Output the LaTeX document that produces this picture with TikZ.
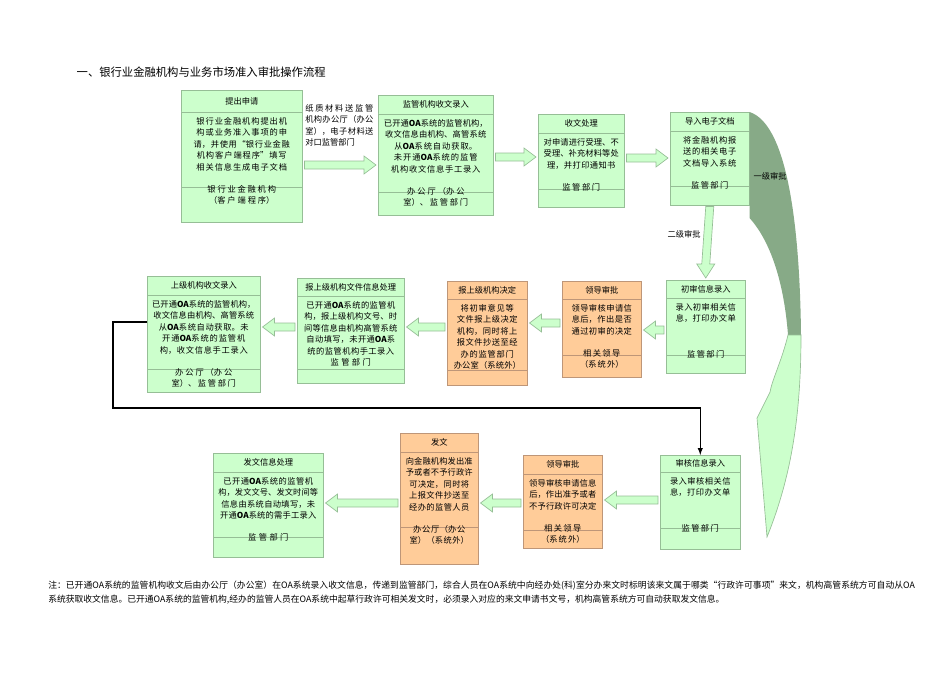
\documentclass[tikz,border=0pt]{standalone}
\usepackage{fontspec}
\setmainfont{Noto Sans CJK SC}
\XeTeXlinebreaklocale "zh"
\XeTeXlinebreakskip=0pt plus 1pt
\usetikzlibrary{calc}
\definecolor{boxgreen}{RGB}{204,255,204}
\definecolor{boxorange}{RGB}{255,204,153}
\definecolor{edgegreen}{RGB}{150,190,150}
\definecolor{edgeorange}{RGB}{190,150,120}
\definecolor{darkgreen}{RGB}{135,170,135}
\tikzset{
  gbox/.style={draw=edgegreen, fill=boxgreen},
  obox/.style={draw=edgeorange, fill=boxorange},
  fat/.style={draw=edgegreen, fill=boxgreen, line width=0.5pt},
  txt/.style={font=\fontsize{6.2}{8.6}\selectfont, align=center, inner sep=0pt},
}
% style, name, top left, width, height, header depth, lower line depth, title, body
\newcommand\procbox[9]{%
  \pgfmathsetmacro\boxw{#4*0.0264}%
  \pgfmathsetmacro\boxh{#5*0.0264}%
  \pgfmathsetmacro\bodyw{(#4-8)*0.0264}%
  \node[#1, anchor=north west, inner sep=0pt, minimum width=\boxw cm,
        minimum height=\boxh cm] (#2) at #3 {};
  \draw[#1] ($(#2.north west)+(0,#6)$) -- ($(#2.north east)+(0,#6)$);
  \draw[#1] ($(#2.north west)+(0,#7)$) -- ($(#2.north east)+(0,#7)$);
  \node[txt] at ($(#2.north)+(0,#6/2)$) {#8};
  \node[txt, anchor=north, text width=\bodyw cm] at ($(#2.north)+(0,#6+5)$) {#9};
}
% hollow arrows between boxes
\newcommand\lfat[3]{% leftwards from #1 to #2 at height #3
  \path let \p1=(#1.west), \p2=(#2.east) in coordinate (s) at (\x1,0) coordinate (e) at (\x2,0);
  \draw[fat] ($(s|-0,#3)+(-2,-4)$) -- ($(e|-0,#3)+(14,-4)$) -- ($(e|-0,#3)+(14,-9)$)
    -- ($(e|-0,#3)+(2,0)$) -- ($(e|-0,#3)+(14,9)$) -- ($(e|-0,#3)+(14,4)$)
    -- ($(s|-0,#3)+(-2,4)$) -- cycle;
}
\newcommand\rfat[3]{% rightwards from #1 to #2
  \path let \p1=(#1.east), \p2=(#2.west) in coordinate (s) at (\x1,0) coordinate (e) at (\x2,0);
  \draw[fat] ($(s|-0,#3)+(2,-4)$) -- ($(e|-0,#3)+(-14,-4)$) -- ($(e|-0,#3)+(-14,-9)$)
    -- ($(e|-0,#3)+(-2,0)$) -- ($(e|-0,#3)+(-14,9)$) -- ($(e|-0,#3)+(-14,4)$)
    -- ($(s|-0,#3)+(2,4)$) -- cycle;
}
\begin{document}
\begin{tikzpicture}[x=0.0264cm, y=-0.0264cm]
\useasboundingbox (0,0) rectangle (950,672);

\node[anchor=west, font=\fontsize{8.5}{10}\selectfont] (title) at (72,72) {一、银行业金融机构与业务市场准入审批操作流程};

% first row
\procbox{gbox}{A}{(181,90)}{121}{132}{22}{97}{提出申请}{银行业金融机构提出机构或业务准入事项的申请，并使用“银行业金融机构客户端程序”填写相关信息生成电子文档\\[8pt]银行业金融机构（客户端程序）}
\procbox{gbox}{B}{(378,95)}{115}{120}{19}{97}{监管机构收文录入}{已开通\textbf{OA}系统的监管机构，收文信息由机构、高管系统\\从\textbf{OA}系统自动获取。未开通\textbf{OA}系统的监管机构收文信息手工录入\\[8pt]办公厅（办公室）、监管部门}
\procbox{gbox}{C}{(538,114)}{86}{93}{19}{75}{收文处理}{对申请进行受理、不受理、补充材料等处理，并打印通知书\\[8pt]监管部门}
\procbox{gbox}{D}{(670,112)}{79}{93}{19}{74}{导入电子文档}{将金融机构报送的相关电子文档导入系统\\[8pt]监管部门}

% second row
\procbox{gbox}{E}{(666,280)}{79}{93}{18}{75}{初审信息录入}{录入初审相关信息，打印办文单\\[18pt]监管部门}
\procbox{obox}{F}{(562,281)}{79}{96}{18}{74}{领导审批}{领导审核申请信息后，作出是否通过初审的决定\\[8pt]相关领导（系统外）}
\procbox{obox}{G}{(447,281)}{80}{104}{18}{89}{报上级机构决定}{将初审意见等文件报上级决定机构，同时将上报文件抄送至经办的监管部门\\办公室（系统外）}
\procbox{gbox}{H}{(297,278)}{107}{105}{18}{91}{报上级机构文件信息处理}{已开通\textbf{OA}系统的监管机构，报上级机构文号、时间等信息由机构高管系统自动填写，未开通\textbf{OA}系统的监管机构手工录入\\监管部门}
\procbox{gbox}{I}{(147,276)}{113}{116}{19}{93}{上级机构收文录入}{已开通\textbf{OA}系统的监管机构，收文信息由机构、高管系统\\从\textbf{OA}系统自动获取。未开通\textbf{OA}系统的监管机构，收文信息手工录入\\[8pt]办公厅（办公室）、监管部门}

% third row
\procbox{gbox}{J}{(660,455)}{80}{94}{17}{73}{审核信息录入}{录入审核相关信息，打印办文单\\[18pt]监管部门}
\procbox{obox}{K}{(523,455)}{79}{93}{19}{75}{领导审批}{领导审核申请信息后，作出准予或者不予行政许可决定\\[8pt]相关领导（系统外）}
\procbox{obox}{L}{(400,433)}{78}{131}{19}{94}{发文}{向金融机构发出准予或者不予行政许可决定，同时将上报文件抄送至经办的监管人员\\[8pt]办公厅（办公室）（系统外）}
\procbox{gbox}{M}{(213,453)}{110}{104}{19}{84}{发文信息处理}{已开通\textbf{OA}系统的监管机构，发文文号、发文时间等信息由系统自动填写，未开通\textbf{OA}系统的需手工录入\\[8pt]监管部门}

% hollow arrows
\rfat{A}{B}{165}
\rfat{B}{C}{157}
\rfat{C}{D}{158}
\lfat{E}{F}{330}
\lfat{F}{G}{323}
\lfat{G}{H}{327}
\lfat{H}{I}{327}
\lfat{J}{K}{500}
\lfat{K}{L}{503}
\lfat{L}{M}{503}
\draw[fat] ($(D.south)+(-4,1)$) -- ($(E.north)+(-4,-16)$) -- ($(E.north)+(-9,-16)$) -- ($(E.north)+(0,-2)$)
  -- ($(E.north)+(9,-16)$) -- ($(E.north)+(4,-16)$) -- ($(D.south)+(4,1)$) -- cycle;

\node[txt, anchor=north west, text width=1.8cm, align=justify] (paper) at (305,104) {纸质材料送监管机构办公厅（办公室），电子材料送对口监管部门};
\node[txt] (second) at (684,234) {二级审批};

% first-level approval sweep
\fill[darkgreen] (D.north east) .. controls (790,125) and (800,240) .. (801,335)
  -- (788,335) .. controls (783,270) and (765,235) .. (D.east |- 0,218) -- cycle;
\draw[fat] (788,335) .. controls (782,360) and (772,380) .. (770,392) -- (757,418)
  -- (767,537) .. controls (790,480) and (801,420) .. (801,335) -- cycle;
\node[txt] (first) at (770,176) {一级审批};

% black connector
\coordinate (c1) at (113,322);
\coordinate (c2) at (113,408);
\coordinate (c3) at (J.north |- 0,408);
\draw[thick, -latex] (I.west |- c1) -- (c1) -- (c2) -- (c3) -- (J.north);

\node[txt, anchor=north west, text width=22.9cm, align=left, font=\fontsize{6.6}{10}\selectfont] (note) at (48,581) {注：已开通OA系统的监管机构收文后由办公厅（办公室）在OA系统录入收文信息，传递到监管部门，综合人员在OA系统中向经办处(科)室分办来文时标明该来文属于哪类“行政许可事项”来文，机构高管系统方可自动从OA系统获取收文信息。已开通OA系统的监管机构,经办的监管人员在OA系统中起草行政许可相关发文时，必须录入对应的来文申请书文号，机构高管系统方可自动获取发文信息。};
\end{tikzpicture}
\end{document}
